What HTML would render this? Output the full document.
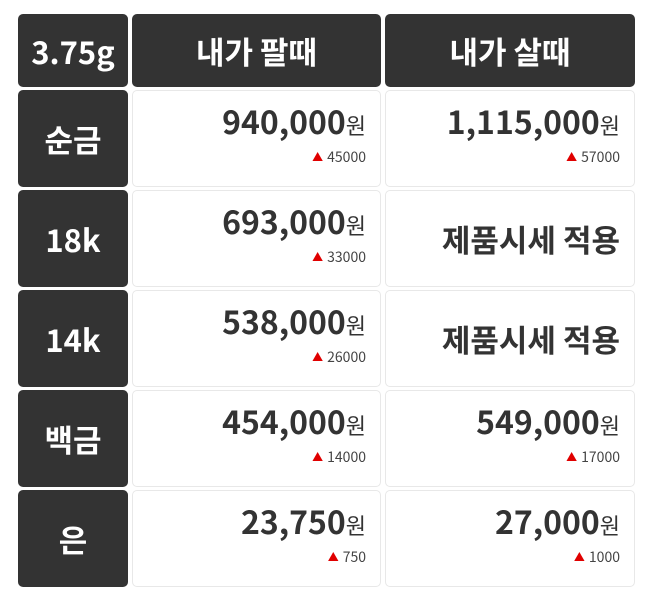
<!DOCTYPE html>
<html><head><meta charset="utf-8"><style>
body{margin:0;width:658px;height:600px;background:#fff;font-family:"Liberation Sans","Noto Sans CJK KR",sans-serif;position:relative;overflow:hidden}
.c{position:absolute;box-sizing:border-box;border-radius:5px}
.d{background:#333;color:#fff;font-weight:bold;font-size:31px;display:flex;align-items:center;justify-content:center;font-family:"Noto Sans CJK KR",sans-serif}
.w{background:#fff;border:1px solid #e8e8e8;color:#333}
.n{position:absolute;right:14px;top:7px;font-size:32px;font-weight:bold;font-family:"Noto Sans CJK KR",sans-serif}
.n span{font-size:22px;font-weight:normal}
.s{position:absolute;right:14px;top:56px;font-size:14px;color:#444;font-family:"Noto Sans CJK KR",sans-serif}
.s b{color:#e00000;font-size:11px;font-weight:normal;margin-right:4px;position:relative;top:-1px}
.t{position:absolute;right:14px;top:25px;font-size:31px;font-weight:bold;font-family:"Noto Sans CJK KR",sans-serif}
</style></head><body>
<div class="c d" style="left:18px;top:14px;width:110px;height:73px">3.75g</div>
<div class="c d" style="left:132px;top:14px;width:249px;height:73px">내가 팔때</div>
<div class="c d" style="left:385px;top:14px;width:250px;height:73px">내가 살때</div>

<div class="c d" style="left:18px;top:90px;width:110px;height:97px">순금</div>
<div class="c w" style="left:132px;top:90px;width:249px;height:97px"><div class="n">940,000<span>원</span></div><div class="s"><b>▲</b>45000</div></div>
<div class="c w" style="left:385px;top:90px;width:250px;height:97px"><div class="n">1,115,000<span>원</span></div><div class="s"><b>▲</b>57000</div></div>

<div class="c d" style="left:18px;top:190px;width:110px;height:97px">18k</div>
<div class="c w" style="left:132px;top:190px;width:249px;height:97px"><div class="n">693,000<span>원</span></div><div class="s"><b>▲</b>33000</div></div>
<div class="c w" style="left:385px;top:190px;width:250px;height:97px"><div class="t">제품시세 적용</div></div>

<div class="c d" style="left:18px;top:290px;width:110px;height:97px">14k</div>
<div class="c w" style="left:132px;top:290px;width:249px;height:97px"><div class="n">538,000<span>원</span></div><div class="s"><b>▲</b>26000</div></div>
<div class="c w" style="left:385px;top:290px;width:250px;height:97px"><div class="t">제품시세 적용</div></div>

<div class="c d" style="left:18px;top:390px;width:110px;height:97px">백금</div>
<div class="c w" style="left:132px;top:390px;width:249px;height:97px"><div class="n">454,000<span>원</span></div><div class="s"><b>▲</b>14000</div></div>
<div class="c w" style="left:385px;top:390px;width:250px;height:97px"><div class="n">549,000<span>원</span></div><div class="s"><b>▲</b>17000</div></div>

<div class="c d" style="left:18px;top:490px;width:110px;height:97px">은</div>
<div class="c w" style="left:132px;top:490px;width:249px;height:97px"><div class="n">23,750<span>원</span></div><div class="s"><b>▲</b>750</div></div>
<div class="c w" style="left:385px;top:490px;width:250px;height:97px"><div class="n">27,000<span>원</span></div><div class="s"><b>▲</b>1000</div></div>
</body></html>
